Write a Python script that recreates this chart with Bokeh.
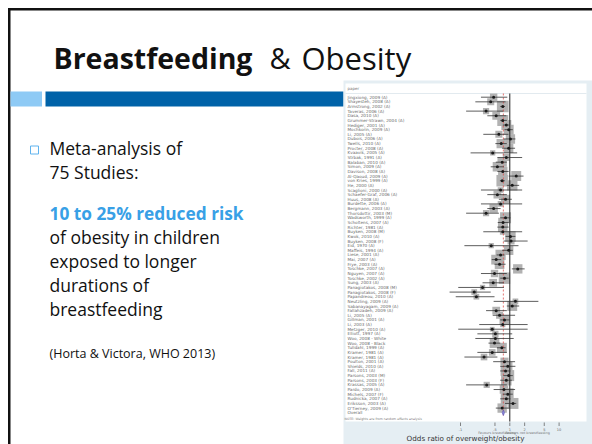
import numpy as np
from bokeh.plotting import figure
from bokeh.models import Range1d, LogScale, ColumnDataSource
from bokeh.core.properties import value
from bokeh.embed import file_html
from bokeh.resources import INLINE

# ---------------- data ----------------
studies = ["Jingxiong, 2009 (A)", "Shayesteh, 2008 (A)", "Armstrong, 2002 (A)", "Taveras, 2006 (A)",
           "Dasa, 2010 (A)", "Grummer-Strawn, 2004 (A)", "Hediger, 2001 (A)", "Mochkorin, 2009 (A)",
           "Li, 2005 (A)", "Dubois, 2006 (A)", "Twells, 2010 (A)", "Procter, 2008 (A)",
           "Kvaavik, 2005 (A)", "Strbak, 1991 (A)", "Balaban, 2010 (A)", "Simon, 2009 (A)",
           "Davison, 2008 (A)", "Al-Qaoud, 2009 (A)", "von Kries, 1999 (A)", "He, 2000 (A)",
           "Scaglioni, 2000 (A)", "Schaefer-Graf, 2006 (A)", "Huus, 2008 (A)", "Burdette, 2006 (A)",
           "Bergmann, 2003 (A)", "Thorsdottir, 2003 (M)", "Wadsworth, 1999 (A)", "Scholtens, 2007 (A)",
           "Richter, 1981 (A)", "Buyken, 2008 (M)", "Kwok, 2010 (A)", "Buyken, 2008 (F)",
           "Eid, 1970 (A)", "Maffeis, 1994 (A)", "Liese, 2001 (A)", "Mai, 2007 (A)",
           "Frye, 2003 (A)", "Toschke, 2007 (A)", "Nguyen, 2007 (A)", "Toschke, 2002 (A)",
           "Sung, 2003 (A)", "Panagiotakos, 2008 (M)", "Panagiotakos, 2008 (F)", "Papandreou, 2010 (A)",
           "Neutzling, 2009 (A)", "Sabanayagam, 2009 (A)", "Fallahzadeh, 2009 (A)", "Li, 2005 (A)",
           "Gillman, 2001 (A)", "Li, 2003 (A)", "Metzger, 2010 (A)", "Elliott, 1997 (A)",
           "Woo, 2008 - White", "Woo, 2008 - Black", "Tulldahl, 1999 (A)", "Kramer, 1981 (A)",
           "Kramer, 1981 (A)", "Poulton, 2001 (A)", "Shields, 2010 (A)", "Fall, 2011 (A)",
           "Parsons, 2003 (M)", "Parsons, 2003 (F)", "Krassas, 2005 (A)", "Pardo, 2009 (A)",
           "Michels, 2007 (F)", "Rudnicka, 2007 (A)", "Eriksson, 2003 (A)", "O'Tierney, 2009 (A)"]

odds_ratio = [0.47, 0.41, 0.72, 0.33, 0.53, 0.72, 0.85, 0.95, 0.60, 1.03, 0.67, 0.95,
              0.45, 0.85, 0.70, 0.56, 0.72, 1.35, 0.70, 1.12, 0.65, 0.56, 0.82, 0.65,
              0.47, 0.33, 0.82, 0.73, 0.72, 0.72, 1.03, 1.06, 0.42, 0.95, 0.65, 0.53,
              0.62, 1.45, 0.49, 0.78, 0.46, 0.28, 0.19, 0.21, 1.30, 1.12, 0.53, 0.62,
              0.78, 0.72, 0.44, 0.51, 0.51, 0.49, 0.69, 0.44, 0.30, 0.78, 0.91, 0.82,
              0.95, 0.85, 0.34, 0.76, 0.91, 0.85, 1.16, 0.70]
ci_low = [0.26, 0.20, 0.64, 0.13, 0.35, 0.64, 0.72, 0.78, 0.29, 0.75, 0.51, 0.70,
          0.16, 0.56, 0.52, 0.41, 0.56, 0.95, 0.63, 0.87, 0.26, 0.35, 0.60, 0.26,
          0.35, 0.13, 0.64, 0.57, 0.56, 0.29, 0.82, 0.75, 0.12, 0.70, 0.54, 0.43,
          0.49, 1.10, 0.26, 0.64, 0.28, 0.09, 0.06, 0.08, 0.47, 0.87, 0.33, 0.45,
          0.64, 0.24, 0.09, 0.22, 0.20, 0.37, 0.55, 0.22, 0.12, 0.46, 0.64, 0.64,
          0.74, 0.64, 0.13, 0.47, 0.72, 0.64, 0.80, 0.52]
ci_high = [0.89, 0.82, 0.80, 0.74, 0.85, 0.87, 0.99, 1.15, 0.94, 1.30, 0.87, 1.28,
           1.41, 1.78, 0.87, 0.76, 0.95, 1.90, 0.79, 1.55, 1.78, 0.87, 1.10, 1.78,
           0.65, 0.60, 1.03, 0.95, 0.95, 1.78, 1.30, 2.30, 1.50, 1.15, 0.78, 0.67,
           0.82, 2.00, 0.87, 0.95, 0.76, 0.76, 0.41, 0.49, 3.80, 1.55, 0.87, 1.28,
           1.00, 2.30, 2.30, 1.12, 1.20, 0.64, 0.82, 0.87, 0.56, 1.28, 1.30, 1.03,
           1.15, 1.10, 0.87, 1.28, 1.15, 1.03, 1.35, 0.95]
weight_pct = [1.0, 0.9, 2.5, 0.7, 1.1, 2.2, 1.8, 1.8, 0.9, 1.6, 1.6, 1.6,
              0.5, 0.9, 1.6, 1.6, 1.6, 1.8, 2.4, 2.0, 0.6, 1.1, 1.5, 0.6,
              1.3, 0.7, 2.2, 1.7, 1.7, 0.6, 2.0, 0.9, 0.5, 1.6, 1.9, 1.8,
              1.7, 1.6, 1.0, 2.4, 1.1, 0.5, 0.6, 0.6, 0.6, 1.8, 1.1, 0.9,
              1.8, 0.5, 0.4, 0.7, 0.6, 1.7, 1.8, 0.8, 0.8, 1.2, 1.6, 1.8,
              2.2, 2.0, 0.7, 1.3, 2.5, 2.3, 2.2, 1.6]

overall_label = "Overall"
overall_or = 0.74
overall_low = 0.70
overall_high = 0.78

axis_ticks = [0.1, 0.5, 1, 2, 5, 10]
axis_tick_labels = [".1", ".5", "1", "2", "5", "10"]
axis_title = "Odds ratio of overweight/obesity"
favours_left = "Favours breastfeeding"
favours_right = "Favours not breastfeeding"
column_header = "paper"
note_text = "NOTE: Weights are from random effects analysis"

title_bold = "Breastfeeding"
title_amp = "&"
title_rest = "Obesity"
body_lines = ["Meta-analysis of", "75 Studies:"]
highlight_line = "10 to 25% reduced risk"
detail_lines = ["of obesity in children", "exposed to longer", "durations of", "breastfeeding"]
citation = "(Horta & Victora, WHO 2013)"

# ---------------- figure (slide canvas in pixel units) ----------------
W, H = 592, 444
p = figure(width=W, height=H, x_range=Range1d(0, W), y_range=Range1d(H, 0),
           min_border=0, toolbar_location=None, output_backend="svg",
           x_axis_location=None, y_axis_location=None,
           background_fill_color="white", border_fill_color="white")
p.outline_line_color = None
p.grid.visible = False

FONT = "Open Sans"
SMALL = "DejaVu Sans"
INK = "#111111"

# slide border
p.quad(left=[7.5], right=[W + 2], top=[7.5], bottom=[10], fill_color=INK, line_color=None)
p.quad(left=[7.5], right=[10], top=[7.5], bottom=[H + 2], fill_color=INK, line_color=None)

# title
TITLE_BASE = 57
p.text(x=[53], y=[TITLE_BASE], text=[title_bold], text_font=value(FONT), text_font_style="bold",
       text_font_size=value("28.5px"), text_color=INK, text_baseline="alphabetic")
p.text(x=[269], y=[TITLE_BASE], text=[title_amp], text_font=value(FONT),
       text_font_size=value("29px"), text_color=INK, text_baseline="alphabetic")
p.text(x=[301], y=[TITLE_BASE], text=[title_rest], text_font=value(FONT),
       text_font_size=value("31px"), text_color=INK, text_baseline="alphabetic")

# title bars
p.quad(left=[10], right=[41.5], top=[91], bottom=[106], fill_color="#8ecaf5", line_color=None)
p.quad(left=[45], right=[343], top=[91], bottom=[106], fill_color="#0062a8", line_color=None)

# bullet
p.quad(left=[30], right=[38], top=[145.5], bottom=[153.5], fill_color=None,
       line_color="#5fb3ee", line_width=1)

body_y = [147, 171]
p.text(x=[49] * 2, y=body_y, text=body_lines, text_font=value(FONT),
       text_font_size=value("17.5px"), text_color=INK, text_baseline="alphabetic")
p.text(x=[49], y=[212.5], text=[highlight_line], text_font=value(FONT), text_font_style="bold",
       text_font_size=value("17.3px"), text_color="#38a0e6", text_baseline="alphabetic")
detail_y = [236, 260, 284, 308]
p.text(x=[49] * 4, y=detail_y, text=detail_lines, text_font=value(FONT),
       text_font_size=value("17.5px"), text_color=INK, text_baseline="alphabetic")
p.text(x=[49], y=[353], text=[citation], text_font=value(FONT),
       text_font_size=value("12.5px"), text_color=INK, text_baseline="alphabetic")

# ---------------- forest plot panel ----------------
p.quad(left=[343], right=[W + 2], top=[80], bottom=[H + 2], fill_color="#e5eef3", line_color=None)
p.quad(left=[345], right=[586], top=[83], bottom=[421], fill_color="white", line_color=None)
p.segment(x0=[345], y0=[93], x1=[586], y1=[93], line_color="#e2eaef", line_width=1)
p.text(x=[347], y=[88], text=[column_header], text_font=value(SMALL), text_font_size=value("4px"),
       text_color="#777777", text_baseline="middle")

# forest scales: log OR on x, row index on y
X1, DEC = 509.3, 49.3          # pixel of OR=1, pixels per decade
Y0, DY = 96.7, 4.64            # pixel of first row, pixels per row
p.extra_x_ranges = {"or": Range1d(10 ** (-X1 / DEC), 10 ** ((W - X1) / DEC))}
p.extra_x_scales = {"or": LogScale()}
p.extra_y_ranges = {"row": Range1d((H - Y0) / DY, -Y0 / DY)}

n = len(studies)
rows = list(range(n))
overall_row = n
src = ColumnDataSource(dict(
    row=rows, study=studies, orr=odds_ratio, lo=ci_low, hi=ci_high,
    box=[7.4 * np.sqrt(w) for w in weight_pct],
))

# labels
p.text(x=347, y="row", text="study", source=src, y_range_name="row",
       text_font=value(SMALL), text_font_size=value("4.2px"), text_color="#6a6a6a",
       text_baseline="middle")
p.text(x=[347], y=[overall_row], text=[overall_label], y_range_name="row",
       text_font=value(SMALL), text_font_size=value("4.2px"), text_color="#6a6a6a",
       text_baseline="middle")

# weight boxes
p.scatter(x="orr", y="row", size="box", marker="square", source=src,
          x_range_name="or", y_range_name="row",
          fill_color="#b2b2b2", line_color=None)

# reference lines
p.segment(x0=[1], y0=[-0.8], x1=[1], y1=[overall_row + 1.9], x_range_name="or",
          y_range_name="row", line_color="#222222", line_width=1)
p.segment(x0=[overall_or], y0=[-0.8], x1=[overall_or], y1=[overall_row + 1.0],
          x_range_name="or", y_range_name="row", line_color="#e0504f", line_width=0.8,
          line_dash="2 2")

# confidence intervals and point estimates
p.segment(x0="lo", y0="row", x1="hi", y1="row", source=src, x_range_name="or",
          y_range_name="row", line_color="#333333", line_width=0.8)
p.scatter(x="orr", y="row", size=3, marker="circle", source=src, x_range_name="or",
          y_range_name="row", fill_color="#1a1a1a", line_color=None)

# overall diamond
p.patch(x=[overall_low, overall_or, overall_high, overall_or],
        y=[overall_row, overall_row - 0.6, overall_row, overall_row + 0.6],
        x_range_name="or", y_range_name="row",
        fill_color="#8a86d8", line_color="#5b57b8", line_width=0.6)

p.text(x=[344], y=[418.5], text=[note_text], text_font=value(SMALL), text_font_size=value("3.2px"),
       text_color="#777777", text_baseline="middle")

# x axis ticks
p.segment(x0=axis_ticks, y0=[422] * len(axis_ticks), x1=axis_ticks, y1=[425.5] * len(axis_ticks),
          x_range_name="or", line_color="#555555", line_width=0.7)
p.text(x=axis_ticks, y=[428.5] * len(axis_ticks), text=axis_tick_labels, x_range_name="or",
       text_font=value(SMALL), text_font_size=value("3.5px"), text_color="#666666",
       text_align="center", text_baseline="middle")
p.text(x=[0.55], y=[432.7], text=[favours_left], x_range_name="or",
       text_font=value(SMALL), text_font_size=value("3.4px"), text_color="#777777",
       text_align="center", text_baseline="middle")
p.text(x=[2.3], y=[432.7], text=[favours_right], x_range_name="or",
       text_font=value(SMALL), text_font_size=value("3.4px"), text_color="#777777",
       text_align="center", text_baseline="middle")
p.text(x=[465], y=[437.5], text=[axis_title], text_font=value(SMALL),
       text_font_size=value("7.2px"), text_color="#333333", text_align="center",
       text_baseline="middle")

open("out.html", "w").write(file_html(p, INLINE))
